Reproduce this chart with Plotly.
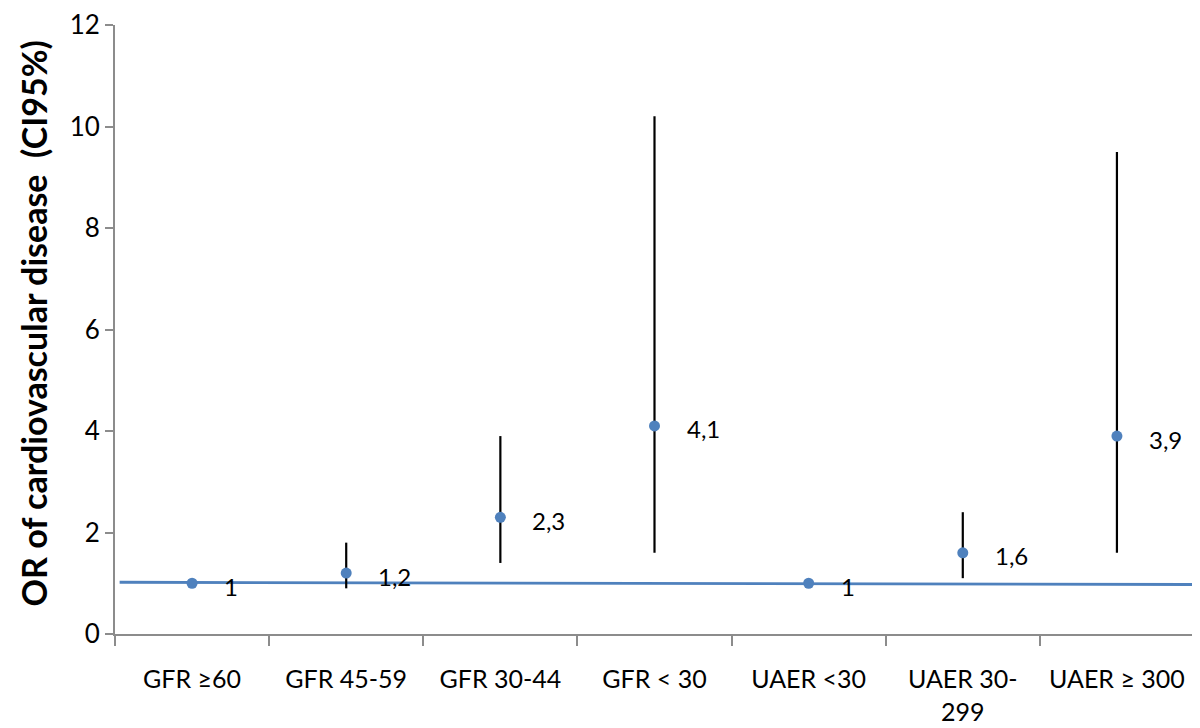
import plotly.graph_objects as go

categories = ["GFR ≥60", "GFR 45-59", "GFR 30-44", "GFR < 30",
              "UAER <30", "UAER 30-<br>299", "UAER ≥ 300"]
odds_ratio = [1.0, 1.2, 2.3, 4.1, 1.0, 1.6, 3.9]
ci_low = [1.0, 0.9, 1.4, 1.6, 1.0, 1.1, 1.6]
ci_high = [1.0, 1.8, 3.9, 10.2, 1.0, 2.4, 9.5]
point_labels = ["1", "1,2", "2,3", "4,1", "1", "1,6", "3,9"]

ref_line_x = [-0.47, 6.5]
ref_line_y = [1.02, 0.975]

y_ticks = [0, 2, 4, 6, 8, 10, 12]
y_title = "OR of cardiovascular disease  (CI95%)"

xpos = list(range(len(categories)))
err_plus = [h - v for h, v in zip(ci_high, odds_ratio)]
err_minus = [v - l for v, l in zip(odds_ratio, ci_low)]

FONT = "Lato"
BLUE = "#4F81BD"
GRAY = "#8C8C8C"

fig = go.Figure()

fig.add_trace(go.Scatter(
    x=ref_line_x, y=ref_line_y, mode="lines",
    line=dict(color=BLUE, width=2.8), hoverinfo="skip", showlegend=False,
))

fig.add_trace(go.Scatter(
    x=xpos, y=odds_ratio, mode="markers",
    marker=dict(color=BLUE, size=11, symbol="circle"),
    error_y=dict(type="data", symmetric=False, array=err_plus,
                 arrayminus=err_minus, color="black", thickness=2.2, width=0),
    showlegend=False,
))

for xv, yv, lab in zip(xpos, odds_ratio, point_labels):
    fig.add_annotation(x=xv, y=yv, text=lab, showarrow=False,
                       xanchor="left", yanchor="middle", xshift=30, yshift=-3,
                       font=dict(family=FONT, size=24, color="black"))

fig.add_annotation(text="<b>" + y_title + "</b>", textangle=-90,
                   xref="paper", yref="paper", x=-0.076, y=0.51,
                   xanchor="center", yanchor="middle", showarrow=False,
                   font=dict(family=FONT, size=34, color="black"))

# page body has an 8px margin, so the figure is sized/offset to compensate
fig.update_layout(
    width=1192, height=720,
    margin=dict(l=107, r=6, t=17, b=94),
    paper_bgcolor="white", plot_bgcolor="white",
    font=dict(family=FONT, color="black"),
    xaxis=dict(
        range=[-0.5, 6.5], tickmode="array", tickvals=xpos, ticktext=categories,
        ticks="", showgrid=False, zeroline=False, automargin=False,
        showline=True, linecolor=GRAY, linewidth=2, ticklabelstandoff=22,
        ticklabeloverflow="allow",
        tickfont=dict(family=FONT, size=25, color="black"),
        minor=dict(tickmode="array", tickvals=[i - 0.5 for i in range(len(categories) + 1)],
                   ticks="outside", ticklen=10, tickcolor=GRAY, tickwidth=2, showgrid=False),
    ),
    yaxis=dict(
        range=[0, 12], tickmode="array", tickvals=y_ticks,
        ticks="outside", ticklen=8, tickcolor=GRAY, tickwidth=2,
        showgrid=False, zeroline=False, automargin=False,
        showline=True, linecolor=GRAY, linewidth=2, ticklabeloverflow="allow",
        tickfont=dict(family=FONT, size=26, color="black"),
    ),
)

fig.write_html("out.html")
